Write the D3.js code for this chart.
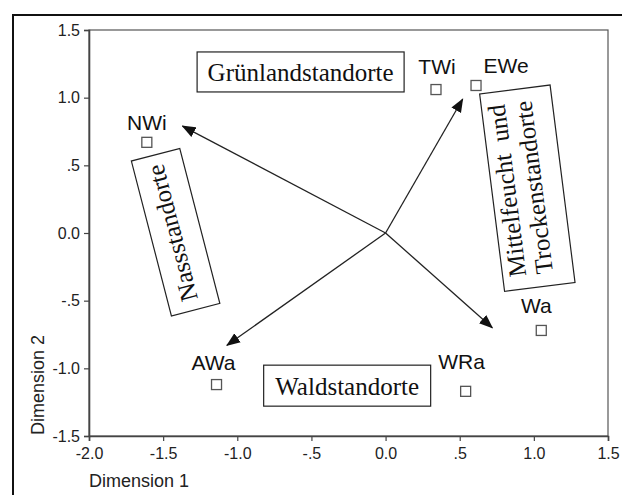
<!DOCTYPE html>
<html>
<head>
<meta charset="utf-8">
<script src="https://cdn.jsdelivr.net/npm/d3@7"></script>
<style>
  html, body { margin: 0; padding: 0; background: #fff; }
  svg { display: block; }
</style>
</head>
<body>
<svg id="chart" width="622" height="495"></svg>
<script>
// ---- data ----
const sites = ["NWi", "TWi", "EWe", "Wa", "WRa", "AWa"];
const dim1 = [-1.61, 0.34, 0.61, 1.05, 0.54, -1.14];
const dim2 = [0.67, 1.06, 1.09, -0.72, -1.17, -1.12];

const arrowNames = ["Nass", "Mittel", "Wald-rechts", "Wald-links"];
const arrowX = [-1.37, 0.52, 0.72, -1.07];
const arrowY = [0.79, 0.99, -0.70, -0.83];

const xTicks = [-2.0, -1.5, -1.0, -0.5, 0.0, 0.5, 1.0, 1.5];
const xTickLabels = ["-2.0", "-1.5", "-1.0", "-.5", "0.0", ".5", "1.0", "1.5"];
const yTicks = [-1.5, -1.0, -0.5, 0.0, 0.5, 1.0, 1.5];
const yTickLabels = ["-1.5", "-1.0", "-.5", "0.0", ".5", "1.0", "1.5"];

const groupLabels = [["Grünlandstandorte"], ["Waldstandorte"], ["Nassstandorte"], ["Mittelfeucht  und", "Trockenstandorte"]];
const groupX = [-0.573, -0.259, -1.416, 0.956];
const groupY = [1.19, -1.128, 0.006, 0.331];

const xTitle = "Dimension 1";
const yTitle = "Dimension 2";

// ---- drawing ----
const svg = d3.select("#chart");
const sans = "'Liberation Sans', Arial, sans-serif";
const serif = "'Liberation Serif', 'Times New Roman', serif";

// outer frame
svg.append("rect").attr("x", 13).attr("y", 15).attr("width", 640).attr("height", 520)
  .attr("fill", "none").attr("stroke", "#111").attr("stroke-width", 2);

const x = d3.scaleLinear().domain([-2, 1.5]).range([89, 608]);
const y = d3.scaleLinear().domain([-1.5, 1.5]).range([436, 30]);

// plot frame
svg.append("rect")
  .attr("x", x(-2)).attr("y", y(1.5))
  .attr("width", x(1.5) - x(-2)).attr("height", y(-1.5) - y(1.5))
  .attr("fill", "none").attr("stroke", "#555").attr("stroke-width", 1.2);

// axes
const xAxis = svg.append("g").attr("transform", `translate(0,${y(-1.5)})`)
  .call(d3.axisBottom(x).tickValues(xTicks).tickSize(5).tickPadding(4)
    .tickFormat((d, i) => xTickLabels[i]));
const yAxis = svg.append("g").attr("transform", `translate(${x(-2)},0)`)
  .call(d3.axisLeft(y).tickValues(yTicks).tickSize(5).tickPadding(4)
    .tickFormat((d, i) => yTickLabels[i]));
[xAxis, yAxis].forEach(a => {
  a.select(".domain").attr("stroke", "#444").attr("stroke-width", 1.6);
  a.selectAll(".tick line").attr("stroke", "#444").attr("stroke-width", 1.2);
  a.selectAll(".tick text").attr("fill", "#222")
    .style("font-family", sans).style("font-size", "16px");
});
xAxis.selectAll(".tick text").attr("dy", "0.9em");

// axis titles
svg.append("text").attr("x", 89).attr("y", 487)
  .style("font-family", sans).style("font-size", "18px").attr("fill", "#222")
  .text(xTitle);
svg.append("text").attr("transform", "translate(43.5,435) rotate(-90)")
  .style("font-family", sans).style("font-size", "18px").attr("fill", "#222")
  .text(yTitle);

// arrows
const defs = svg.append("defs");
defs.append("marker").attr("id", "ah")
  .attr("markerUnits", "userSpaceOnUse")
  .attr("viewBox", "0 -6 14 12").attr("markerWidth", 14).attr("markerHeight", 12)
  .attr("refX", 13).attr("refY", 0).attr("orient", "auto")
  .append("path").attr("d", "M0,-5.5L14,0L0,5.5Z").attr("fill", "#111");

svg.append("g").selectAll("line").data(arrowNames).join("line")
  .attr("x1", x(0)).attr("y1", y(0))
  .attr("x2", (d, i) => x(arrowX[i])).attr("y2", (d, i) => y(arrowY[i]))
  .attr("stroke", "#222").attr("stroke-width", 1.3)
  .attr("marker-end", "url(#ah)");

// points
const sq = 10;
svg.append("g").selectAll("rect").data(sites).join("rect")
  .attr("x", (d, i) => x(dim1[i]) - sq / 2).attr("y", (d, i) => y(dim2[i]) - sq / 2)
  .attr("width", sq).attr("height", sq)
  .attr("fill", "#fff").attr("stroke", "#555").attr("stroke-width", 1.3);

// point labels
const labDx = { NWi: 0, TWi: 1, EWe: 30, Wa: -5, WRa: -4, AWa: -3 };
const labDy = { NWi: -12.5, TWi: -16, EWe: -12, Wa: -17, WRa: -22, AWa: -15 };
svg.append("g").selectAll("text").data(sites).join("text")
  .attr("x", (d, i) => x(dim1[i]) + labDx[d]).attr("y", (d, i) => y(dim2[i]) + labDy[d])
  .attr("text-anchor", "middle")
  .style("font-family", sans).style("font-size", "21px").attr("fill", "#111")
  .text(d => d);

// group boxes
const boxW = [207, 167, 160, 199];
const boxH = [40, 41, 50, 71];
const boxRot = [0, 0, -104.5, -97.2];
const lineBase = [[9], [9], [5], [-12, 15]];
groupLabels.forEach((lines, i) => {
  const g = svg.append("g")
    .attr("transform", `translate(${x(groupX[i])},${y(groupY[i])}) rotate(${boxRot[i]})`);
  g.append("rect").attr("x", -boxW[i] / 2).attr("y", -boxH[i] / 2)
    .attr("width", boxW[i]).attr("height", boxH[i])
    .attr("fill", "#fff").attr("stroke", "#222").attr("stroke-width", 1.2);
  lines.forEach((t, j) => {
    g.append("text").attr("x", 0).attr("y", lineBase[i][j])
      .attr("text-anchor", "middle")
      .style("font-family", serif).style("font-size", "25px").style("white-space", "pre")
      .attr("fill", "#111")
      .text(t);
  });
});
</script>
</body>
</html>
